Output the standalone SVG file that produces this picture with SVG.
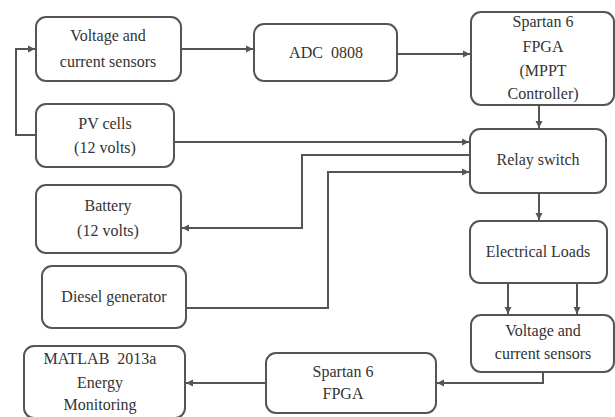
<svg xmlns="http://www.w3.org/2000/svg" width="615" height="417" viewBox="0 0 615 417">
<defs>
<style>
.box{fill:#fff;stroke:#555;stroke-width:2}
.t{font-family:'Liberation Serif','DejaVu Serif',serif;font-size:16px;fill:#333;text-anchor:middle;white-space:pre}
.c{fill:none;stroke:#555;stroke-width:2}
</style>
<marker id="ah" markerWidth="8" markerHeight="8" refX="7" refY="4" orient="auto" markerUnits="userSpaceOnUse">
<path d="M0,0.5 L7,4 L0,7.5 z" fill="#555"/>
</marker>
</defs>
<rect width="615" height="417" fill="#fff"/>
<g id="connectors">
<path class="c" d="M181,49 H253" marker-end="url(#ah)"/>
<path class="c" d="M397,54 H470" marker-end="url(#ah)"/>
<path class="c" d="M539,105 V128" marker-end="url(#ah)"/>
<path class="c" d="M36,135 H16 V49 H35" marker-end="url(#ah)"/>
<path class="c" d="M174,142 H469" marker-end="url(#ah)"/>
<path class="c" d="M469,155 H302 V228 H182" marker-end="url(#ah)"/>
<path class="c" d="M186,308 H328 V172 H469" marker-end="url(#ah)"/>
<path class="c" d="M539,193 V220" marker-end="url(#ah)"/>
<path class="c" d="M508,283 V314" marker-end="url(#ah)"/>
<path class="c" d="M577,283 V314" marker-end="url(#ah)"/>
<path class="c" d="M543,372 V383 H437" marker-end="url(#ah)"/>
<path class="c" d="M266,383 H186" marker-end="url(#ah)"/>
</g>
<g id="vsens1"><rect class="box" x="36" y="17" width="145" height="64" rx="10"/>
<text class="t" x="108" y="41">Voltage and</text><text class="t" x="108" y="67">current sensors</text></g>
<g id="adc"><rect class="box" x="254" y="24" width="143" height="57" rx="10"/>
<text class="t" x="326" y="58" xml:space="preserve">ADC  0808</text></g>
<g id="fpga1"><rect class="box" x="471" y="12" width="143" height="93" rx="10"/>
<text class="t" x="543" y="27">Spartan 6</text><text class="t" x="543" y="52">FPGA</text><text class="t" x="543" y="76">(MPPT</text><text class="t" x="543" y="99">Controller)</text></g>
<g id="pv"><rect class="box" x="36" y="104" width="138" height="63" rx="10"/>
<text class="t" x="105" y="129">PV cells</text><text class="t" x="105" y="153">(12 volts)</text></g>
<g id="relay"><rect class="box" x="470" y="129" width="136" height="64" rx="10"/>
<text class="t" x="538" y="165">Relay switch</text></g>
<g id="battery"><rect class="box" x="36" y="185" width="145" height="68" rx="10"/>
<text class="t" x="108" y="211">Battery</text><text class="t" x="108" y="236">(12 volts)</text></g>
<g id="diesel"><rect class="box" x="42" y="266" width="144" height="62" rx="10"/>
<text class="t" x="114" y="302">Diesel generator</text></g>
<g id="loads"><rect class="box" x="470" y="221" width="137" height="62" rx="10"/>
<text class="t" x="538" y="257">Electrical Loads</text></g>
<g id="vsens2"><rect class="box" x="471" y="315" width="143" height="57" rx="10"/>
<text class="t" x="543" y="336">Voltage and</text><text class="t" x="543" y="359">current sensors</text></g>
<g id="fpga2"><rect class="box" x="266" y="353" width="170" height="60" rx="10"/>
<text class="t" x="343" y="377">Spartan 6</text><text class="t" x="343" y="399">FPGA</text></g>
<g id="matlab"><rect class="box" x="24" y="346" width="161" height="72" rx="10"/>
<text class="t" x="100" y="364" xml:space="preserve">MATLAB  2013a</text><text class="t" x="100" y="388">Energy</text><text class="t" x="100" y="410">Monitoring</text></g>
</svg>
